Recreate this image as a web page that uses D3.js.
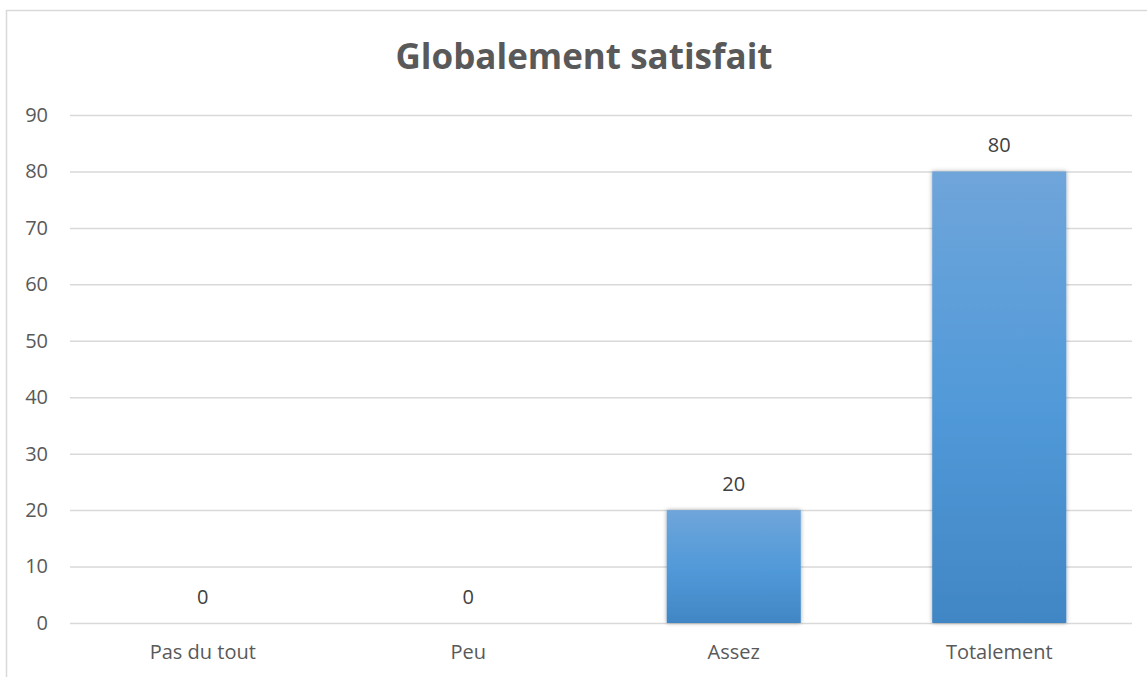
<!DOCTYPE html>
<html><head><meta charset="utf-8">
<script src="https://cdn.jsdelivr.net/npm/d3@7"></script>
<style>body{margin:0;background:#fff;} text{font-family:"Open Sans","Liberation Sans",sans-serif;}</style>
</head><body>
<svg id="c" width="1147" height="677"></svg>
<script>
const categories = ["Pas du tout", "Peu", "Assez", "Totalement"];
const values = [0, 0, 20, 80];
const yTicks = [0, 10, 20, 30, 40, 50, 60, 70, 80, 90];
const title = "Globalement satisfait";

const svg = d3.select("#c");
const W = 1147, H = 677;
const m = {left: 70, right: 15, top: 115, bottom: 54};
const x = d3.scaleBand().domain(categories).range([m.left, W - m.right]).paddingInner(0.495).paddingOuter(0.2475);
const y = d3.scaleLinear().domain([0, 90]).range([H - m.bottom, m.top]);

const defs = svg.append("defs");
const g = defs.append("linearGradient").attr("id", "bg").attr("x1", 0).attr("y1", 0).attr("x2", 0).attr("y2", 1);
g.append("stop").attr("offset", "0%").attr("stop-color", "#6fa5da");
g.append("stop").attr("offset", "50%").attr("stop-color", "#529ad9");
g.append("stop").attr("offset", "100%").attr("stop-color", "#4186c5");
const f = defs.append("filter").attr("id", "sh").attr("x", "-10%").attr("y", "-10%").attr("width", "120%").attr("height", "120%");
f.append("feDropShadow").attr("dx", 0).attr("dy", 0).attr("stdDeviation", 2).attr("flood-color", "#000").attr("flood-opacity", 0.35);

// border
svg.append("rect").attr("x", 6.5).attr("y", 10.5).attr("width", 1200).attr("height", 800)
  .attr("fill", "none").attr("stroke", "#d9d9d9").attr("stroke-width", 1.5);

svg.append("text").attr("x", 584).attr("y", 69).attr("text-anchor", "middle")
  .attr("font-size", 35).attr("font-weight", "bold").attr("fill", "#595959").text(title);

const yAxis = d3.axisLeft(y).tickValues(yTicks).tickSize(-(W - m.left - m.right)).tickPadding(22);
const ga = svg.append("g").attr("transform", `translate(${m.left},0)`).call(yAxis);
ga.select(".domain").remove();
ga.selectAll(".tick line").attr("stroke", "#d9d9d9").attr("stroke-width", 1.5);
ga.selectAll(".tick text").attr("fill", "#595959").attr("font-size", 20).attr("font-family", "Open Sans, sans-serif");

svg.selectAll(".bar").data(values).join("rect").attr("class", "bar")
  .attr("x", (d, i) => x(categories[i])).attr("width", x.bandwidth())
  .attr("y", d => y(d)).attr("height", d => y(0) - y(d))
  .attr("fill", "url(#bg)").attr("filter", "url(#sh)");

svg.selectAll(".vl").data(values).join("text").attr("class", "vl")
  .attr("x", (d, i) => x(categories[i]) + x.bandwidth() / 2).attr("y", d => y(d) - 19)
  .attr("text-anchor", "middle").attr("font-size", 20).attr("fill", "#404040").text(d => d);

const xAxis = d3.axisBottom(x).tickSize(0).tickPadding(22);
const gx = svg.append("g").attr("transform", `translate(0,${y(0)})`).call(xAxis);
gx.select(".domain").remove();
gx.selectAll(".tick text").attr("fill", "#595959").attr("font-size", 20).attr("font-family", "Open Sans, sans-serif");
</script>
</body></html>
